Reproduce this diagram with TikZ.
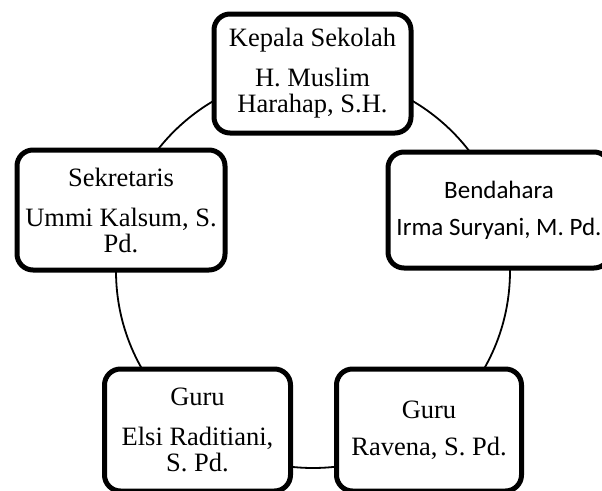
\documentclass[tikz,border=0pt]{standalone}
\usepackage{fontspec}
\setmainfont{Liberation Serif}
\newfontfamily\calfont{Carlito}
\begin{document}
\begin{tikzpicture}[x=1pt,y=-1pt]
\tikzset{
  orgbox/.style={draw=black, fill=white, line width=5pt, rounded corners=16pt,
    align=center, inner sep=0pt, font=\fontsize{26.5}{26}\selectfont},
  ring/.style={draw=black, line width=1.8pt}
}
\useasboundingbox (0,0) rectangle (602,490);
\coordinate (c) at (313,271);
\draw[ring] (c) circle[radius=197pt];
\node[orgbox, minimum width=197pt, minimum height=119pt] (kepala) at (312.5,73.5)
  {Kepala Sekolah\\[14pt]H. Muslim\\Harahap, S.H.};
\node[orgbox, minimum width=222pt, minimum height=116pt,
  font=\calfont\fontsize{25}{25}\selectfont] (bendahara) at (499,210)
  {Bendahara\\[12pt]Irma Suryani, M. Pd.};
\node[orgbox, minimum width=208pt, minimum height=120pt] (sekretaris) at (121,210)
  {Sekretaris\\[14pt]Ummi Kalsum, S.\\Pd.};
\node[orgbox, minimum width=186pt, minimum height=122pt] (guru1) at (197.5,430)
  {Guru\\[14pt]Elsi Raditiani,\\S. Pd.};
\node[orgbox, minimum width=185pt, minimum height=122pt] (guru2) at (429,430)
  {Guru\\[11pt]Ravena, S. Pd.};
\end{tikzpicture}
\end{document}
